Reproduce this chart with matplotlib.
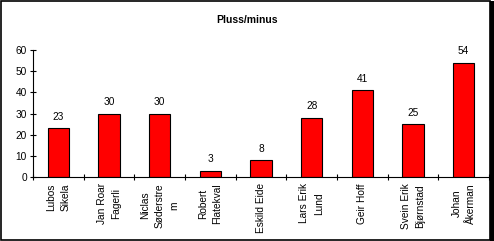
import matplotlib.pyplot as plt
import numpy as np
from matplotlib.patches import Rectangle

plt.rcParams["font.family"] = ["Liberation Sans", "DejaVu Sans"]

players = ["Lubos\nSikela", "Jan Roar\nFagerli", "Niclas\nSøderstre\nm", "Robert\nFlatekval",
           "Eskild Eide", "Lars Erik\nLund", "Geir Hoff", "Svein Erik\nBjørnstad", "Johan\nÅkerman"]
values = [23, 30, 30, 3, 8, 28, 41, 25, 54]

fig = plt.figure(figsize=(4.94, 2.41), dpi=100)
ax = fig.add_axes([33 / 494, 1 - 177 / 241, (489 - 33) / 494, (177 - 50) / 241])

x = np.arange(len(values))
ax.bar(x, values, width=0.42, color="#ff0000", edgecolor="black", linewidth=0.8)
for xi, v in zip(x, values):
    ax.text(xi, v + 3, str(v), ha="center", va="bottom", fontsize=7.3)

ax.set_xlim(-0.5, len(values) - 0.5)
ax.set_ylim(0, 60)
ax.set_yticks(range(0, 61, 10))
ax.set_xticks(np.arange(len(values) + 1) - 0.5, minor=False)
ax.set_xticklabels([])
ax.tick_params(axis="both", direction="inout", length=5, width=0.8, labelsize=7.3, pad=2)
for xi, name in zip(x, players):
    ax.text(xi, -3, name, rotation=90, ha="center", va="top", fontsize=7.3,
            multialignment="center", linespacing=1.55, clip_on=False)

for s in ["top", "right"]:
    ax.spines[s].set_visible(False)
ax.spines["left"].set_linewidth(0.8)
ax.spines["bottom"].set_linewidth(0.8)

fig.text(0.5, 1 - 20 / 241, "Pluss/minus", ha="center", va="center", fontsize=7.5, fontweight="bold")

fig.patches.append(Rectangle((0.002, 0.006), 0.99, 0.99, transform=fig.transFigure,
                             fill=False, edgecolor="black", linewidth=1.2))
fig.patches.append(Rectangle((0.992, 0.0), 0.008, 0.996, transform=fig.transFigure,
                             fill=True, facecolor="black", edgecolor="none"))

fig.savefig("out.png", dpi=100)
